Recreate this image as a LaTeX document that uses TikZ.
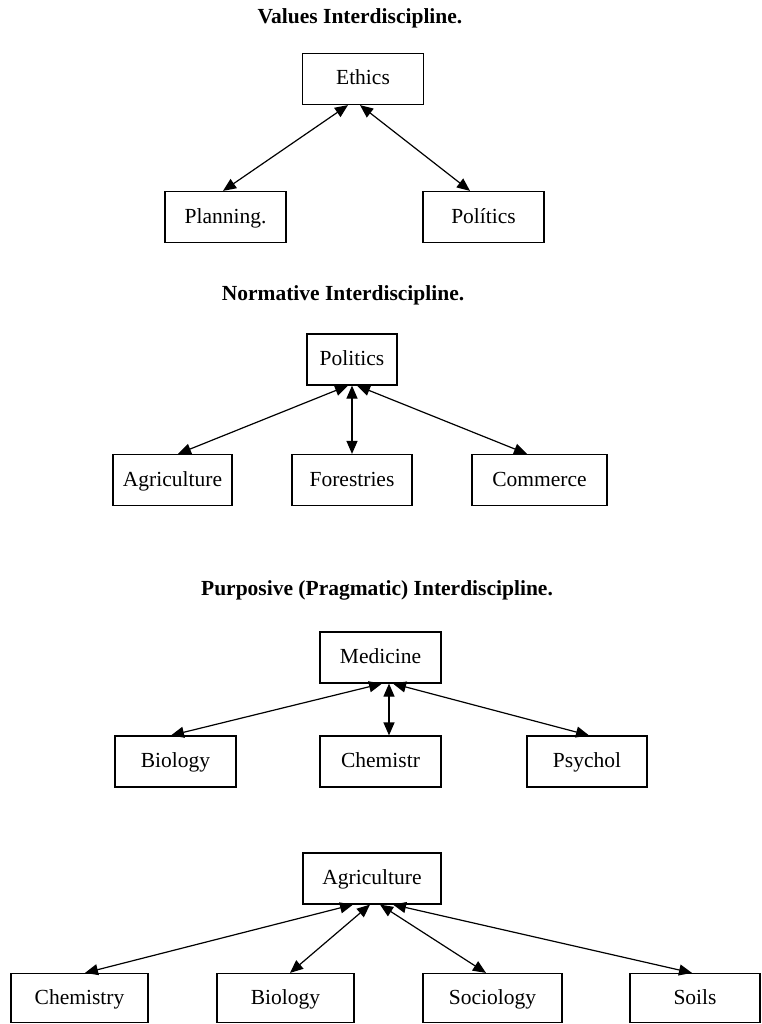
\documentclass[tikz,border=0pt]{standalone}
\usepackage{fontspec}
\setmainfont{Liberation Serif}
\usepackage{tikz}
\usetikzlibrary{arrows.meta}

\tikzset{
  box/.style={draw, line width=1.2pt, rectangle, minimum height=51pt, inner sep=0pt,
    text height=16pt, text depth=4pt, font=\fontsize{21.5}{26}\selectfont},
  heading/.style={font=\fontsize{21.5}{26}\selectfont\bfseries},
  link/.style={{Triangle[length=13pt,width=11pt]}-{Triangle[length=13pt,width=11pt]}, line width=1.2pt}
}

\begin{document}
\begin{tikzpicture}[x=1pt, y=-1pt]
\useasboundingbox (0,0) rectangle (761,1024);

% values
\node[heading](t1) at (360,18){Values Interdiscipline.};
\node[box, minimum width=121pt](eth) at (363,79){Ethics};
\node[box, minimum width=121pt](pla) at (225.5,217){Planning.};
\node[box, minimum width=121pt](pol) at (483.5,217){Polítics};

\path[link]
	([xshift=-15pt]eth.south) edge ([xshift=-2.5pt]pla.north)
	([xshift=-3pt]eth.south) edge ([xshift=-13.5pt]pol.north);

% normative
\node[heading](t2) at (343,295){Normative Interdiscipline.};
\node[box, minimum width=90pt](pls) at (352,359.5){Politics};
\node[box, minimum width=119pt](agr) at (172.5,480){Agriculture};
\node[box, minimum width=120pt](for) at (352,480){Forestries};
\node[box, minimum width=135pt](com) at (539.5,480){Commerce};

\path[link]
	([xshift=-4pt]pls.south) edge ([xshift=5.5pt]agr.north)
	(pls.south) edge (for.north)
	([xshift=5pt]pls.south) edge ([xshift=-12.5pt]com.north);

% purposive
\node[heading](t3) at (377,590){Purposive (Pragmatic) Interdiscipline.};
\node[box, minimum width=121pt](med) at (380.5,657.5){Medicine};
\node[box, minimum width=121pt](bio) at (175.5,761.5){Biology};
\node[box, minimum width=121pt](che) at (380.5,761.5){Chemistr};
\node[box, minimum width=120pt](psy) at (587,761.5){Psychol};

\path[link]
	([xshift=1.5pt]med.south) edge ([xshift=-4.5pt]bio.north)
	([xshift=8.5pt]med.south) edge ([xshift=8.5pt]che.north)
	([xshift=12.5pt]med.south) edge ([xshift=2pt]psy.north);

% agriculture
\node[box, minimum width=138pt](agc) at (372,878.5){Agriculture};
\node[box, minimum width=137pt, minimum height=49pt](chm) at (79.5,998){Chemistry};
\node[box, minimum width=137pt, minimum height=49pt](bi2) at (285.5,998){Biology};
\node[box, minimum width=139pt, minimum height=49pt](soc) at (492.5,998){Sociology};
\node[box, minimum width=130pt, minimum height=49pt](soi) at (695,998){Soils};

\path[link]
	([xshift=-19pt]agc.south) edge ([xshift=5.5pt]chm.north)
	([xshift=-2pt]agc.south) edge ([xshift=4.5pt]bi2.north)
	([xshift=8pt]agc.south) edge ([xshift=-6.5pt]soc.north)
	([xshift=21pt]agc.south) edge ([xshift=-3pt]soi.north);
\end{tikzpicture}
\end{document}
